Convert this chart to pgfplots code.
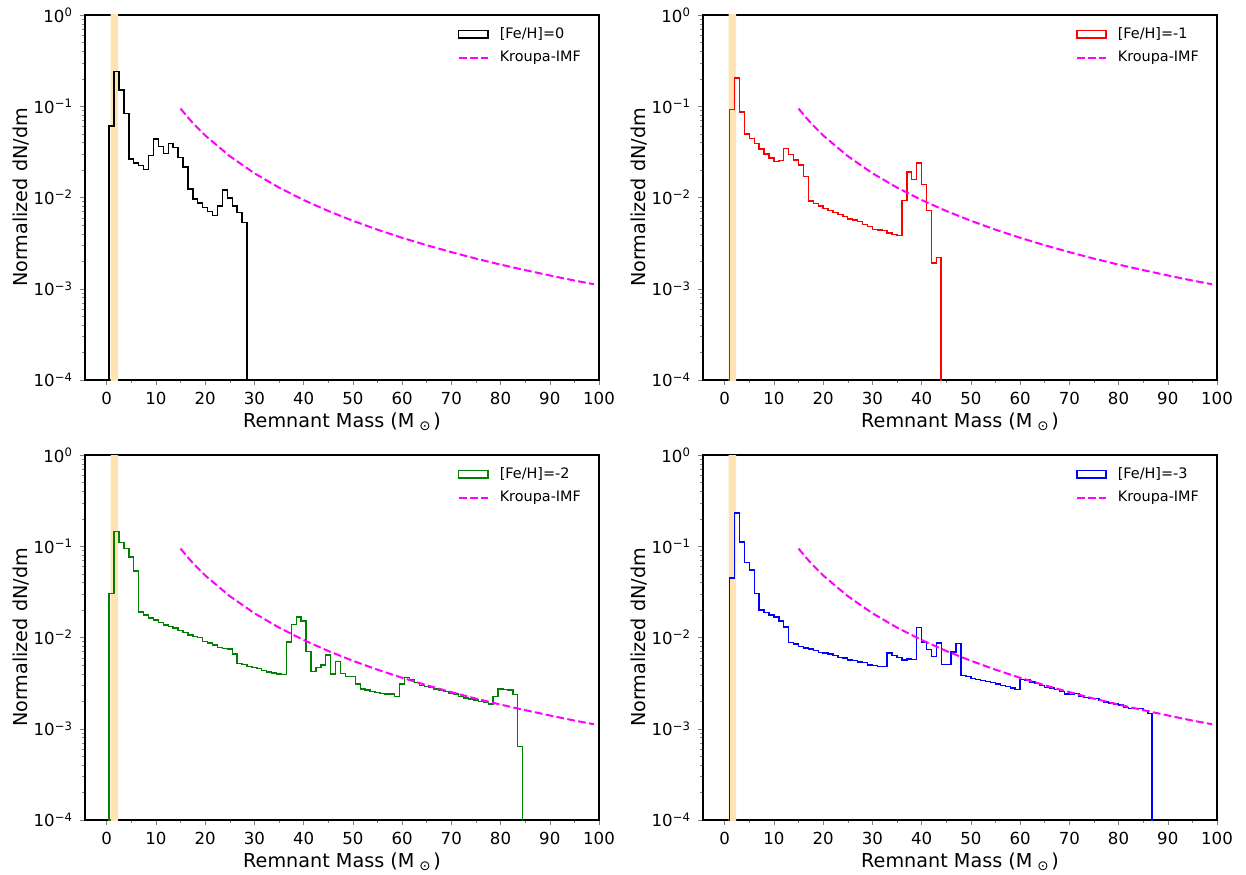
\documentclass[border=0pt]{standalone}
\usepackage{fontspec}
\setmainfont{DejaVu Sans}
\usepackage{pgfplots}
\pgfplotsset{compat=1.18}
\usepackage{pgfplotstable}

\definecolor{bandcol}{RGB}{255,228,179}
\definecolor{mplgreen}{RGB}{0,128,0}
\definecolor{mplmagenta}{RGB}{255,0,255}
\definecolor{mplred}{RGB}{255,0,0}
\definecolor{mplblue}{RGB}{0,0,255}

\pgfplotstableread{
x y
0.5 1e-6
0.5 0.061
1.5 0.24
2.5 0.15
3.5 0.083
4.5 0.0264
5.5 0.0238
6.5 0.0223
7.5 0.0203
8.5 0.0287
9.5 0.0438
10.5 0.0363
11.5 0.0302
12.5 0.0389
13.5 0.0351
14.5 0.0273
15.5 0.0216
16.5 0.0124
17.5 0.0096
18.5 0.00867
19.5 0.00783
20.5 0.00702
21.5 0.00634
22.5 0.0081
23.5 0.0121
24.5 0.0099
25.5 0.0081
26.5 0.0068
27.5 0.0053
28.5 0.0053
28.5 1e-6
}\histA

\pgfplotstableread{
x y
1 1e-6
1 0.092
2 0.203
3 0.0867
4 0.0497
5 0.0441
6 0.0389
7 0.034
8 0.0299
9 0.0271
10 0.0247
11 0.0255
12 0.0343
13 0.0297
14 0.0257
15 0.0227
16 0.0171
17 0.00912
18 0.0086
19 0.00803
20 0.00757
21 0.0072
22 0.0069
23 0.00656
24 0.00618
25 0.00583
26 0.00564
27 0.00545
28 0.00505
29 0.0048
30 0.00449
31 0.00441
32 0.00434
33 0.00409
34 0.00395
35 0.00386
36 0.00927
37 0.0191
38 0.0158
39 0.0238
40 0.0138
41 0.0072
42 0.00191
43 0.00221
43.9 0.00221
43.9 1e-6
}\histB

\pgfplotstableread{
x y
0.5 1e-6
0.5 0.0302
1.5 0.145
2.5 0.1107
3.5 0.0943
4.5 0.0763
5.5 0.0536
6.5 0.019
7.5 0.0177
8.5 0.0164
9.5 0.0155
10.5 0.0146
11.5 0.0137
12.5 0.0132
13.5 0.0127
14.5 0.0119
15.5 0.0113
16.5 0.0107
17.5 0.0102
18.5 0.0100
19.5 0.0091
20.5 0.00874
21.5 0.00824
22.5 0.00783
23.5 0.00757
24.5 0.00745
25.5 0.00662
26.5 0.00522
27.5 0.00505
28.5 0.0048
29.5 0.00472
30.5 0.00456
31.5 0.00438
32.5 0.0042
33.5 0.00409
34.5 0.00399
35.5 0.00392
36.5 0.0089
37.5 0.0139
38.5 0.0167
39.5 0.0151
40.5 0.00702
41.5 0.00423
42.5 0.00472
43.5 0.00501
44.5 0.00646
45.5 0.00399
46.5 0.00545
47.5 0.00406
48.5 0.00376
49.5 0.00376
50.5 0.0031
51.5 0.00273
52.5 0.00266
53.5 0.00257
54.5 0.00251
55.5 0.00245
56.5 0.0024
57.5 0.0024
58.5 0.00225
59.5 0.0031
60.5 0.00366
61.5 0.00348
62.5 0.00323
63.5 0.00297
64.5 0.0029
65.5 0.00285
66.5 0.00273
67.5 0.00262
68.5 0.00257
69.5 0.00245
70.5 0.0024
71.5 0.00227
72.5 0.00217
73.5 0.00212
74.5 0.00206
75.5 0.00198
76.5 0.00195
77.5 0.00187
78.5 0.00225
79.5 0.00273
80.5 0.00268
81.5 0.00266
82.5 0.00237
83.5 0.00064
84.5 0.00064
84.5 1e-6
}\histC

\pgfplotstableread{
x y
1 1e-6
1 0.0449
2 0.2305
3 0.1116
4 0.0662
5 0.055
6 0.0302
7 0.0201
8 0.0187
9 0.0177
10 0.0167
11 0.0151
12 0.013
13 0.00881
14 0.00851
15 0.00803
16 0.0077
17 0.00745
18 0.0072
19 0.0069
20 0.00679
21 0.00662
22 0.00634
23 0.00608
24 0.00598
25 0.00569
26 0.00559
27 0.0054
28 0.00531
29 0.00501
30 0.00497
31 0.00484
32 0.00484
33 0.00679
34 0.00634
35 0.00608
36 0.00569
37 0.00583
38 0.00575
39 0.0128
40 0.0089
41 0.00738
42 0.00623
43 0.00874
44 0.00505
45 0.00505
46 0.00696
47 0.0086
48 0.00386
49 0.00373
50 0.00357
51 0.00345
52 0.00337
53 0.00331
54 0.0032
55 0.0031
56 0.00297
57 0.0029
58 0.0028
59 0.0027
60 0.00348
61 0.00342
62 0.00326
63 0.00312
64 0.00299
65 0.00285
66 0.0028
67 0.0027
68 0.00257
69 0.0024
70 0.00237
71 0.00245
72 0.00227
73 0.00221
74 0.00215
75 0.00215
76 0.00203
77 0.00196
78 0.00191
79 0.00187
80 0.00182
81 0.00172
82 0.00167
83 0.00167
84 0.00167
85 0.00158
86 0.00147
86.8 0.00147
86.8 1e-6
}\histD

\pgfplotstableread{
x y
15 0.0942
17.5 0.0655
20 0.0479
25 0.0284
30 0.01846
35 0.01285
40 0.00939
45 0.00712
50 0.00556
55 0.00444
60 0.00362
65 0.00300
70 0.00252
75 0.00214
80 0.00184
85 0.00160
90 0.00140
95 0.00123
99 0.00112
}\kroupa

\pgfplotsset{
  every axis/.append style={
    scale only axis, width=257pt, height=182.5pt,
    xmin=-4.4, xmax=100, ymin=1e-4, ymax=1,
    axis line style={black, line width=0.55pt},
    tick pos=left, tick align=outside,
    major tick length=2.5pt, minor tick length=1.4pt,
    xtick={0,10,...,100}, minor xtick={5,15,...,95},
    ytick={1e-4,1e-3,1e-2,1e-1,1},
    yticklabels={10\textsuperscript{−4},10\textsuperscript{−3},10\textsuperscript{−2},10\textsuperscript{−1},10\textsuperscript{0}},
    minor ytick={2e-4,3e-4,4e-4,5e-4,6e-4,7e-4,8e-4,9e-4,2e-3,3e-3,4e-3,5e-3,6e-3,7e-3,8e-3,9e-3,2e-2,3e-2,4e-2,5e-2,6e-2,7e-2,8e-2,9e-2,0.2,0.3,0.4,0.5,0.6,0.7,0.8,0.9},
    xticklabel style={/pgf/number format/assume math mode=true},
    tick label style={font=\fontsize{8.3}{10}\selectfont},
    xlabel={Remnant Mass (M\hspace{2.5pt}\textsubscript{⊙}\hspace{0.8pt})},
    ylabel={Normalized dN/dm},
    label style={font=\fontsize{9.6}{11.5}\selectfont},
    xlabel style={at={(axis description cs:0.5,-0.115)}, anchor=center},
    ylabel style={at={(axis description cs:-0.125,0.5)}, anchor=center},
    legend style={draw=none, fill=none, at={(0.985,0.9895)}, anchor=north east,
      font=\fontsize{7.2}{8.6}\selectfont, row sep=1pt},
    legend cell align=left,
  },
}

\begin{document}
\begin{tikzpicture}
\useasboundingbox (0,0) rectangle (623pt,437pt);

\begin{semilogyaxis}[anchor=south west, at={(42.5pt,247pt)}]
\addplot[draw=none, fill=bandcol, forget plot, mark=none] coordinates {(0.8,1e-5) (0.8,10) (2.35,10) (2.35,1e-5) (0.8,1e-5)};
\addplot[const plot mark left, mark=none, line width=0.7pt, black, legend image code/.code={\draw[black, line width=0.7pt] (0pt,-1.85pt) rectangle (14.5pt,1.85pt); \path[draw=none, fill=none] (14.5pt,0pt) -- (18.5pt,0pt);}] table {\histA};
\addlegendentry{[Fe/H]=0}
\addplot[mplmagenta, mark=none, line width=1pt, dash pattern=on 3.85pt off 1.67pt, legend image code/.code={\draw[mplmagenta, line width=1pt, dash pattern=on 3.85pt off 1.67pt] (0pt,0pt) -- (14.5pt,0pt); \path[draw=none, fill=none] (14.5pt,0pt) -- (18.5pt,0pt);}] table {\kroupa};
\addlegendentry{Kroupa-IMF}
\end{semilogyaxis}

\begin{semilogyaxis}[anchor=south west, at={(351.5pt,247pt)}]
\addplot[draw=none, fill=bandcol, forget plot, mark=none] coordinates {(0.8,1e-5) (0.8,10) (2.35,10) (2.35,1e-5) (0.8,1e-5)};
\addplot[const plot mark left, mark=none, line width=0.7pt, mplred, legend image code/.code={\draw[mplred, line width=0.7pt] (0pt,-1.85pt) rectangle (14.5pt,1.85pt); \path[draw=none, fill=none] (14.5pt,0pt) -- (18.5pt,0pt);}] table {\histB};
\addlegendentry{[Fe/H]=-1}
\addplot[mplmagenta, mark=none, line width=1pt, dash pattern=on 3.85pt off 1.67pt, legend image code/.code={\draw[mplmagenta, line width=1pt, dash pattern=on 3.85pt off 1.67pt] (0pt,0pt) -- (14.5pt,0pt); \path[draw=none, fill=none] (14.5pt,0pt) -- (18.5pt,0pt);}] table {\kroupa};
\addlegendentry{Kroupa-IMF}
\end{semilogyaxis}

\begin{semilogyaxis}[anchor=south west, at={(42.5pt,27pt)}]
\addplot[draw=none, fill=bandcol, forget plot, mark=none] coordinates {(0.8,1e-5) (0.8,10) (2.35,10) (2.35,1e-5) (0.8,1e-5)};
\addplot[const plot mark left, mark=none, line width=0.7pt, mplgreen, legend image code/.code={\draw[mplgreen, line width=0.7pt] (0pt,-1.85pt) rectangle (14.5pt,1.85pt); \path[draw=none, fill=none] (14.5pt,0pt) -- (18.5pt,0pt);}] table {\histC};
\addlegendentry{[Fe/H]=-2}
\addplot[mplmagenta, mark=none, line width=1pt, dash pattern=on 3.85pt off 1.67pt, legend image code/.code={\draw[mplmagenta, line width=1pt, dash pattern=on 3.85pt off 1.67pt] (0pt,0pt) -- (14.5pt,0pt); \path[draw=none, fill=none] (14.5pt,0pt) -- (18.5pt,0pt);}] table {\kroupa};
\addlegendentry{Kroupa-IMF}
\end{semilogyaxis}

\begin{semilogyaxis}[anchor=south west, at={(351.5pt,27pt)}]
\addplot[draw=none, fill=bandcol, forget plot, mark=none] coordinates {(0.8,1e-5) (0.8,10) (2.35,10) (2.35,1e-5) (0.8,1e-5)};
\addplot[const plot mark left, mark=none, line width=0.7pt, mplblue, legend image code/.code={\draw[mplblue, line width=0.7pt] (0pt,-1.85pt) rectangle (14.5pt,1.85pt); \path[draw=none, fill=none] (14.5pt,0pt) -- (18.5pt,0pt);}] table {\histD};
\addlegendentry{[Fe/H]=-3}
\addplot[mplmagenta, mark=none, line width=1pt, dash pattern=on 3.85pt off 1.67pt, legend image code/.code={\draw[mplmagenta, line width=1pt, dash pattern=on 3.85pt off 1.67pt] (0pt,0pt) -- (14.5pt,0pt); \path[draw=none, fill=none] (14.5pt,0pt) -- (18.5pt,0pt);}] table {\kroupa};
\addlegendentry{Kroupa-IMF}
\end{semilogyaxis}
\end{tikzpicture}
\end{document}
